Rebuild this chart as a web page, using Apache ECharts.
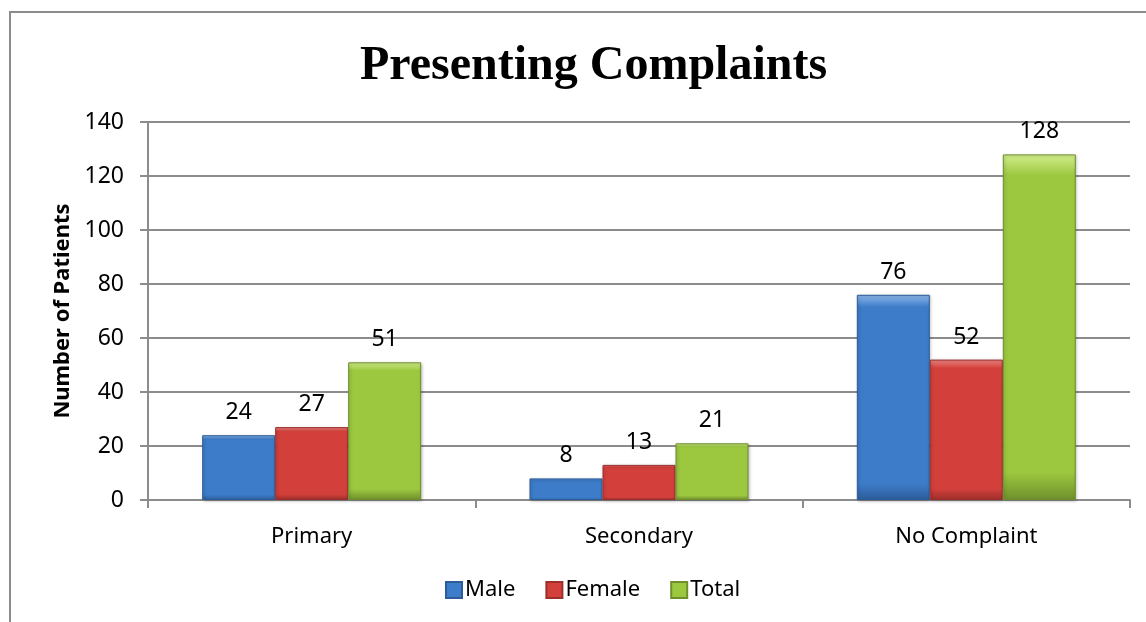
<!DOCTYPE html>
<html>
<head>
<meta charset="utf-8">
<script src="https://cdn.jsdelivr.net/npm/echarts@6/dist/echarts.min.js"></script>
<style>
  html, body { margin: 0; padding: 0; background: #fff; }
  #chart { width: 1146px; height: 622px; }
</style>
</head>
<body>
<div id="chart"></div>
<script>
// data
const categories = ["Primary", "Secondary", "No Complaint"];
const male = [24, 8, 76];
const female = [27, 13, 52];
const total = [51, 21, 128];
const yTicks = [0, 20, 40, 60, 80, 100, 120, 140];

const font = "'Noto Sans', 'Open Sans', sans-serif";

// bevel-ish fill: light top, darker bottom
function fill(top, mid, bottom) {
  return new echarts.graphic.LinearGradient(0, 0, 0, 1, [
    { offset: 0, color: top },
    { offset: 0.06, color: mid },
    { offset: 0.92, color: mid },
    { offset: 1, color: bottom },
  ]);
}

function makeSeries(name, data, c) {
  return {
    name: name,
    type: "bar",
    data: data,
    barWidth: 73,
    barGap: "0%",
    itemStyle: {
      color: fill(c[0], c[1], c[2]),
      borderColor: c[2],
      borderWidth: 1,
      shadowColor: "rgba(0,0,0,0.25)",
      shadowBlur: 3,
      shadowOffsetX: 1,
      shadowOffsetY: 1,
    },
    label: {
      show: true,
      position: "top",
      distance: 11,
      color: "#000",
      fontSize: 23,
      fontFamily: font,
    },
  };
}

let chart = echarts.init(document.getElementById("chart"));
chart.setOption({
  animation: false,
  backgroundColor: "#fff",
  title: {
    text: "Presenting Complaints",
    left: 355,
    top: 38,
    textStyle: {
      fontFamily: "'Liberation Serif', 'Times New Roman', serif",
      fontWeight: "bold",
      fontSize: 48,
      color: "#000",
    },
  },
  legend: {
    bottom: 16,
    left: 440,
    icon: "rect",
    itemWidth: 16,
    itemHeight: 16,
    itemGap: 30,
    textStyle: { fontSize: 22, fontFamily: font, color: "#000", padding: [0, 0, 0, -2] },
    data: ["Male", "Female", "Total"],
  },
  graphic: [
    {
      type: "polyline",
      shape: { points: [[10, 640], [10, 12], [1160, 12]] },
      style: { stroke: "#8c8c8c", lineWidth: 2, fill: null },
    },
  ],
  grid: { left: 148, right: 16, top: 122, bottom: 122 },
  xAxis: {
    type: "category",
    data: categories,
    axisLine: { lineStyle: { color: "#8c8c8c", width: 2 } },
    axisTick: { show: true, length: 8, lineStyle: { color: "#8c8c8c", width: 2 } },
    axisLabel: { color: "#000", fontSize: 22, fontFamily: font, margin: 26 },
  },
  yAxis: {
    type: "value",
    min: yTicks[0],
    max: yTicks[yTicks.length - 1],
    interval: 20,
    name: "Number of Patients",
    nameLocation: "middle",
    nameGap: 74,
    nameTextStyle: { fontSize: 22, fontWeight: "bold", fontFamily: font, color: "#000" },
    axisLine: { show: true, lineStyle: { color: "#8c8c8c", width: 2 } },
    axisTick: { show: true, length: 8, lineStyle: { color: "#8c8c8c", width: 2 } },
    axisLabel: { color: "#000", fontSize: 23, fontFamily: font, margin: 24 },
    splitLine: { lineStyle: { color: "#8c8c8c", width: 2 } },
  },
  series: [
    makeSeries("Male", male, ["#8fb8ec", "#3d7cc9", "#2c5d99"]),
    makeSeries("Female", female, ["#f08a86", "#d3403b", "#9c2e2b"]),
    makeSeries("Total", total, ["#d3ef8e", "#9cc83f", "#6f8f2c"]),
  ],
});
</script>
</body>
</html>
